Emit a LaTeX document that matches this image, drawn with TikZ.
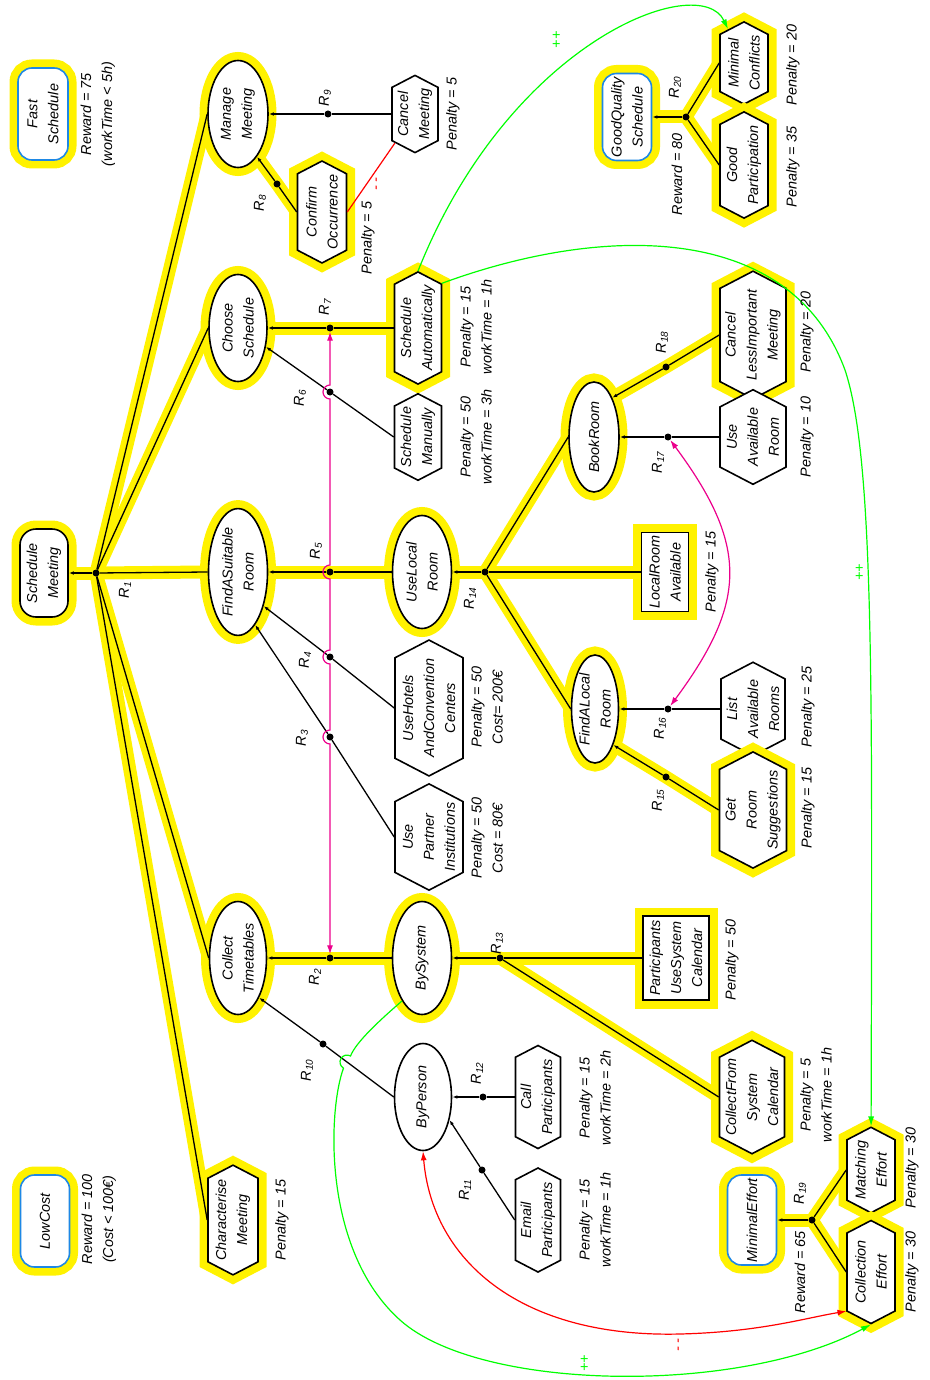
\documentclass[tikz,border=0pt]{standalone}
\usepackage{fontspec}
\setmainfont{Liberation Sans}
\usetikzlibrary{arrows.meta,shapes.geometric,shapes.symbols}
\definecolor{softblue}{RGB}{30,136,229}
\pgfdeclarelayer{bg}
\pgfsetlayers{bg,main}

\begin{document}
\begin{tikzpicture}[x=1pt, y=-1pt,
		every node/.style={rotate=90, align=center, font=\itshape\fontsize{14.4}{21}\selectfont},
		halo/.style={preaction={draw=yellow, line width=17pt}},
		goal/.style={ellipse, draw, fill=white, line width=1.6pt, inner sep=0pt},
		task/.style={signal, signal to=east and west, signal pointer angle=125, draw, fill=white, line width=1.6pt, inner sep=1pt},
		res/.style={rectangle, draw, fill=white, line width=1.6pt, inner sep=2pt},
		soft/.style={rectangle, rounded corners=14pt, draw=softblue, fill=white, line width=1.6pt, inner sep=2pt},
		topgoal/.style={rectangle, rounded corners=16pt, draw, fill=white, line width=1.6pt, inner sep=2pt},
		jn/.style={circle, fill=black, inner sep=0pt, minimum size=7pt},
		lbl/.style={inner sep=0pt},
		declink/.style={line width=1.3pt},
		decarrow/.style={line width=1.3pt, -{Latex[length=5pt,width=3.5pt]}},
		linkhalo/.style={draw=yellow, line width=13pt, line cap=round, line join=round},
		contrib/.style={line width=1.2pt, -{Latex[length=10pt,width=6pt]}},
		both/.style={line width=1.2pt, {Latex[length=9pt,width=6pt]}-{Latex[length=9pt,width=6pt]}}]
	
	\useasboundingbox (0,0) rectangle (929,1380);
	
	% softgoals
	\node[soft, halo, minimum width=92, minimum height=50] (fs) at (43,114) {Fast\\Schedule};
	\node[soft, halo, minimum width=92, minimum height=49] (lc) at (45,1221) {LowCost};
	\node[soft, halo, minimum width=87, minimum height=49] (gqs) at (627,117) {GoodQuality\\Schedule};
	\node[soft, halo, minimum width=90, minimum height=49] (me) at (752,1220) {MinimalEffort};
	
	% goals
	\node[topgoal, halo, minimum width=88, minimum height=48] (sm) at (44,573) {Schedule\\Meeting};
	\node[goal, halo, minimum width=107, minimum height=60] (mm) at (238,114) {Manage\\Meeting};
	\node[goal, halo, minimum width=107, minimum height=58] (cs) at (238,328) {Choose\\Schedule};
	\node[goal, halo, minimum width=114, minimum height=59] (fasr) at (238,572) {FindASuitable\\Room};
	\node[goal, halo, minimum width=113, minimum height=57] (ct) at (238,958) {Collect\\Timetables};
	\node[goal, halo, minimum width=113, minimum height=59] (ulr) at (422,572) {UseLocal\\Room};
	\node[goal, halo, minimum width=113, minimum height=59] (bs) at (422,958) {BySystem};
	\node[goal, minimum width=107, minimum height=57] (bp) at (423,1097) {ByPerson};
	\node[goal, halo, minimum width=110, minimum height=50] (br) at (594,437) {BookRoom};
	\node[goal, halo, minimum width=108, minimum height=47] (falr) at (595,709) {FindALocal\\Room};
	
	% tasks
	\node[task, halo, minimum width=106, minimum height=50] (chm) at (233,1220) {Characterise\\Meeting};
	\node[task, halo, minimum width=95, minimum height=49] (co) at (322,212) {Confirm\\Occurrence};
	\node[task, minimum width=75, minimum height=46] (cm) at (415,114) {Cancel\\Meeting};
	\node[task, halo, minimum width=107, minimum height=47] (sa) at (418,328) {Schedule\\Automatically};
	\node[task, minimum width=84, minimum height=47] (sman) at (418,437) {Schedule\\Manually};
	\node[task, minimum width=123, minimum height=68] (uh) at (429,708) {UseHotels\\AndConvention\\Centers};
	\node[task, minimum width=100, minimum height=68] (up) at (429,837) {Use\\Partner\\Institutions};
	\node[task, minimum width=104, minimum height=45] (ep) at (538,1220) {Email\\Participants};
	\node[task, minimum width=103, minimum height=45] (cp) at (538,1097) {Call\\Participants};
	\node[task, halo, minimum width=101, minimum height=65] (cfsc) at (752,1097) {CollectFrom\\System\\Calendar};
	\node[task, halo, minimum width=81, minimum height=48] (mte) at (871,1170) {Matching\\Effort};
	\node[task, halo, minimum width=103, minimum height=48] (cle) at (871,1272) {Collection\\Effort};
	\node[task, halo, minimum width=80, minimum height=48] (mc) at (744,63) {Minimal\\Conflicts};
	\node[task, halo, minimum width=103, minimum height=48] (gp) at (744,165) {Good\\Participation};
	\node[task, halo, minimum width=104, minimum height=66] (clim) at (753,335) {Cancel\\LessImportant\\Meeting};
	\node[task, minimum width=79, minimum height=66] (uar) at (753,437) {Use\\Available\\Room};
	\node[task, minimum width=82, minimum height=64] (lar) at (753,709) {List\\Available\\Rooms};
	\node[task, halo, minimum width=104, minimum height=67] (grs) at (753,810) {Get\\Room\\Suggestions};
	
	% resources
	\node[res, halo, minimum width=79, minimum height=47] (lra) at (665,572) {LocalRoom\\Available};
	\node[res, halo, minimum width=84, minimum height=66] (pusc) at (676,958) {Participants\\UseSystem\\Calendar};
	
	% junctions and their labels
	\foreach \n/\x/\y in {1/96/573, 2/330/958, 3/330/737, 4/330/657, 5/330/572, 6/330/392, 7/330/328,
		8/277/184, 9/328/114, 10/323/1044, 11/482/1170, 12/483/1097, 13/500/958, 14/485/572,
		15/666/777, 16/668/709, 17/668/437, 18/666/367, 19/812/1220, 20/686/117}
		\node[jn] (r\n) at (\x,\y) {};
	\foreach \n/\x/\y in {1/125/590, 2/315/977, 3/302/738, 4/305/660, 5/316/551, 6/300/398, 7/325/307,
		8/260/203, 9/325/98, 10/307/1070, 11/465/1190, 12/477/1073, 13/497/943, 14/470/598,
		15/658/800, 16/660/728, 17/658/462, 18/662/342, 19/800/1193, 20/675/87}
		\node[lbl] (rl\n) at (\x,\y) {R\textsubscript{\n}};
	
	% highlighted links
	\begin{pgfonlayer}{bg}
		\foreach \c in {mm,cs,fasr,ct,chm} \draw[linkhalo] (\c.north) -- (r1.center);
		\draw[linkhalo] (r1.center) -- (sm);
		\draw[linkhalo] (bs.north) -- (r2.center) -- (ct);
		\draw[linkhalo] (ulr.north) -- (r5.center) -- (fasr);
		\draw[linkhalo] (sa.north) -- (r7.center) -- (cs);
		\draw[linkhalo] (co.north) -- (r8.center) -- (mm.204);
		\foreach \c in {pusc,cfsc} \draw[linkhalo] (\c.north) -- (r13.center);
		\draw[linkhalo] (r13.center) -- (bs);
		\foreach \c in {br,lra,falr} \draw[linkhalo] (\c.north) -- (r14.center);
		\draw[linkhalo] (r14.center) -- (ulr);
		\draw[linkhalo] (grs.north) -- (r15.center) -- (falr.207);
		\draw[linkhalo] (clim.north) -- (r18.center) -- (br.335);
		\foreach \c in {mte,cle} \draw[linkhalo] (\c.north) -- (r19.center);
		\draw[linkhalo] (r19.center) -- (me);
		\foreach \c in {mc,gp} \draw[linkhalo] (\c.north) -- (r20.center);
		\draw[linkhalo] (r20.center) -- (gqs);
	\end{pgfonlayer}
	
	% decompositions
	\foreach \c in {mm,cs,fasr,ct,chm} \draw[declink] (\c.north) -- (r1);
	\draw[decarrow] (r1) -- (sm);
	\draw[declink] (bs.north) -- (r2);   \draw[decarrow] (r2) -- (ct);
	\draw[declink] (up.north) -- (r3);   \draw[decarrow] (r3) -- (fasr.198);
	\draw[declink] (uh.north) -- (r4);   \draw[decarrow] (r4) -- (fasr.217);
	\draw[declink] (ulr.north) -- (r5);  \draw[decarrow] (r5) -- (fasr);
	\draw[declink] (sman.north) -- (r6); \draw[decarrow] (r6) -- (cs.236);
	\draw[declink] (sa.north) -- (r7);   \draw[decarrow] (r7) -- (cs);
	\draw[declink] (co.north) -- (r8);   \draw[decarrow] (r8) -- (mm.204);
	\draw[declink] (cm.north) -- (r9);   \draw[decarrow] (r9) -- (mm);
	\draw[declink] (bp.north) -- (r10);  \draw[decarrow] (r10) -- (ct.208);
	\draw[declink] (ep.north) -- (r11);  \draw[decarrow] (r11) -- (bp.229);
	\draw[declink] (cp.north) -- (r12);  \draw[decarrow] (r12) -- (bp);
	\foreach \c in {pusc,cfsc} \draw[declink] (\c.north) -- (r13);
	\draw[decarrow] (r13) -- (bs);
	\foreach \c in {br,lra,falr} \draw[declink] (\c.north) -- (r14);
	\draw[decarrow] (r14) -- (ulr);
	\draw[declink] (grs.north) -- (r15); \draw[decarrow] (r15) -- (falr.207);
	\draw[declink] (lar.north) -- (r16); \draw[decarrow] (r16) -- (falr);
	\draw[declink] (uar.north) -- (r17); \draw[decarrow] (r17) -- (br);
	\draw[declink] (clim.north) -- (r18); \draw[decarrow] (r18) -- (br.335);
	\foreach \c in {mte,cle} \draw[declink] (\c.north) -- (r19);
	\draw[decarrow] (r19) -- (me);
	\foreach \c in {mc,gp} \draw[declink] (\c.north) -- (r20);
	\draw[decarrow] (r20) -- (gqs);
	
	% magenta links between junctions
	\draw[both, magenta] (r2) -- (330,744) arc[start angle=90, end angle=270, radius=7]
		-- (330,664) arc[start angle=90, end angle=270, radius=7]
		-- (330,579) arc[start angle=90, end angle=270, radius=7]
		-- (330,399) arc[start angle=90, end angle=270, radius=7] -- (r7);
	\draw[both, magenta] (r17) .. controls (748,545) and (748,601) .. (r16);
	
	% contributions
	\draw[contrib, green] (sa.east) .. controls (510,40) and (700,-30) .. (mc);
	\draw[contrib, green] (sa.-28) .. controls (600,225) and (790,220) .. (845,370)
		.. controls (875,460) and (872,700) .. (mte);
	\draw[contrib, green] (bs.155) .. controls (380,1020) and (356,1042) .. (350.5,1056)
		arc[start angle=-60, end angle=-240, radius=7]
		.. controls (328,1110) and (322,1250) .. (400,1320)
		.. controls (480,1392) and (740,1395) .. (cle.west);
	\draw[line width=1.2pt, red] (co.south) -- (cm);
	\draw[both, red] (bp.west) .. controls (432,1260) and (520,1338) .. (680,1334)
		.. controls (760,1332) and (805,1318) .. (cle.148);
	\node[lbl, green] (pp1) at (557,40) {++};
	\node[lbl, green] (pp2) at (860,572) {++};
	\node[lbl, green] (pp3) at (585,1363) {++};
	\node[lbl, red] (mm1) at (378,184) {- -};
	\node[lbl, red] (mm2) at (680,1345) {- -};
	
	% annotations
	\node[lbl] (fsL) at (98,114) {Reward = 75\\(workTime < 5h)};
	\node[lbl] (lcL) at (99,1219) {Reward = 100\\(Cost < 100€)};
	\node[lbl] (gqsL) at (677,174) {Reward = 80};
	\node[lbl] (meL) at (800,1272) {Reward = 65};
	\node[lbl] (chmL) at (282,1220) {Penalty = 15};
	\node[lbl] (coL) at (368,238) {Penalty = 5};
	\node[lbl] (cmL) at (453,114) {Penalty = 5};
	\node[lbl] (saL) at (476,327) {Penalty = 15\\workTime = 1h};
	\node[lbl] (smanL) at (476,437) {Penalty = 50\\workTime = 3h};
	\node[lbl] (uhL) at (487,707) {Penalty = 50\\Cost= 200€};
	\node[lbl] (upL) at (487,838) {Penalty = 50\\Cost = 80€};
	\node[lbl] (epL) at (595,1220) {Penalty = 15\\workTime = 1h};
	\node[lbl] (cpL) at (595,1098) {Penalty = 15\\workTime = 2h};
	\node[lbl] (cfscL) at (816,1095) {Penalty = 5\\workTime = 1h};
	\node[lbl] (puscL) at (732,960) {Penalty = 50};
	\node[lbl] (lraL) at (712,572) {Penalty = 15};
	\node[lbl] (climL) at (807,332) {Penalty = 20};
	\node[lbl] (uarL) at (807,437) {Penalty = 10};
	\node[lbl] (larL) at (808,707) {Penalty = 25};
	\node[lbl] (grsL) at (808,808) {Penalty = 15};
	\node[lbl] (mcL) at (793,65) {Penalty = 20};
	\node[lbl] (gpL) at (793,167) {Penalty = 35};
	\node[lbl] (mteL) at (912,1168) {Penalty = 30};
	\node[lbl] (cleL) at (912,1272) {Penalty = 30};
	
\end{tikzpicture}
\end{document}
